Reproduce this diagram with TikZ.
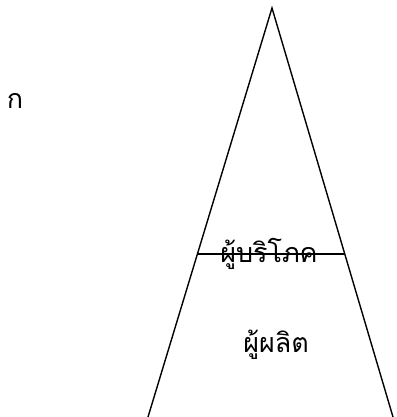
\documentclass[tikz,border=0pt]{standalone}
\usepackage{fontspec}
\newfontfamily\thaifont[Script=Thai]{Loma}
\usetikzlibrary{calc}
\tikzset{
  side/.style={line width=1.4bp, black},
  thai/.style={font=\thaifont\fontsize{27}{32}\selectfont, inner sep=0pt, anchor=base}
}
\begin{document}
\begin{tikzpicture}[x=1bp,y=-1bp]
\useasboundingbox (0,0) rectangle (397,417);
\coordinate (apex) at (272,8);
\coordinate (bl) at (148,417);
\coordinate (br) at (393,417);
\coordinate (hl) at ($(apex)!0.6015!(bl)$);
\coordinate (hr) at ($(apex)!0.6015!(br)$);
\draw[side] (bl) -- (apex) -- (br);
\draw[side] (hl) -- (hr);
\node[thai] (cons) at (269,262) {ผู้บริโภค};
\node[thai] (prod) at (276,352) {ผู้ผลิต};
\node[thai] (ko) at (15,108) {ก};
\end{tikzpicture}
\end{document}
